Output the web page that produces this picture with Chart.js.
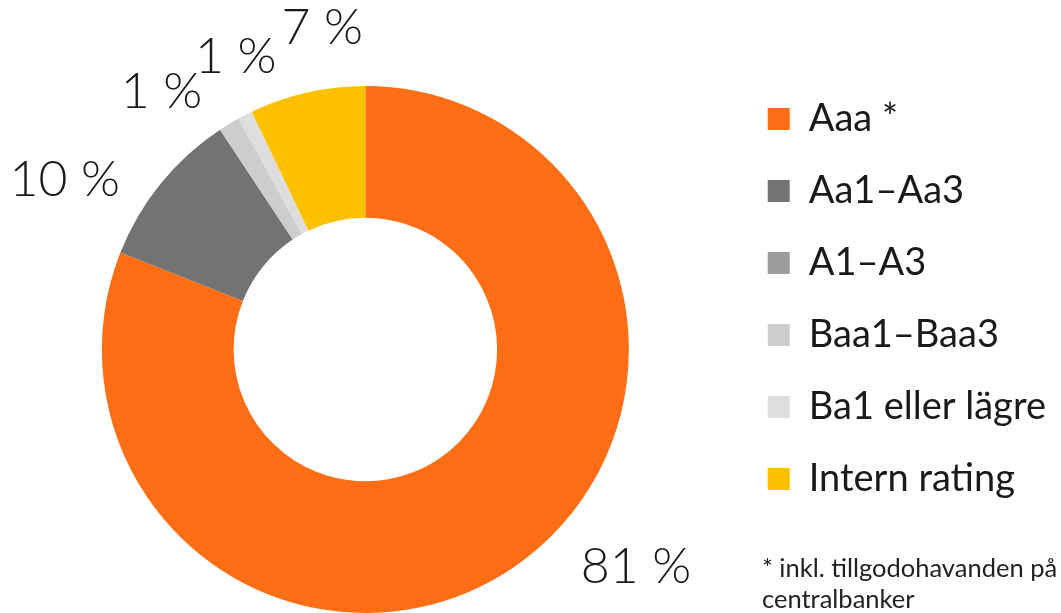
<!DOCTYPE html>
<html>
<head>
<meta charset="utf-8">
<script src="https://cdn.jsdelivr.net/npm/chart.js@4"></script>
<style>
  body { margin: 0; background: #fff; }
  #wrap { position: relative; width: 1061px; height: 613px; }
  #note { position: absolute; left: 762px; top: 552px; font: 25.5px Lato, sans-serif; color: #222; line-height: 31px; }
</style>
</head>
<body>
<div id="wrap">
  <canvas id="chart" width="1061" height="613"></canvas>
  <div id="note">* inkl. tillgodohavanden på<br>centralbanker</div>
</div>
<script>
// andel per ratingklass, procent
let ratings = ['Aaa *', 'Aa1–Aa3', 'A1–A3', 'Baa1–Baa3', 'Ba1 eller lägre', 'Intern rating']
let shares = [81, 9.7, 0, 1.3, 0.9, 7.1]
let shareLabels = ['81 %', '10 %', '', '1 %', '1 %', '7 %']
let colors = ['#FF6E14', '#737373', '#9B9B9B', '#CDCDCD', '#DEDEDE', '#FFC000']

// label nudges from the arc's mid point
let nudges = [[100, -34], [-65, 22], [0, 0], [-47, 2], [9, -23], [24, -26]]

let outsideLabels = {
    id: 'outsideLabels',
    afterDraw(chart) {
        let ctx = chart.ctx
        let arcs = chart.getDatasetMeta(0).data
        ctx.save()
        ctx.font = '300 50px Lato'
        ctx.fillStyle = '#1a1a1a'
        ctx.textAlign = 'center'
        ctx.textBaseline = 'middle'
        arcs.forEach(function(arc, i) {
            if (!shareLabels[i]) return
            let mid = (arc.startAngle + arc.endAngle) / 2
            let r = arc.outerRadius + 40
            let x = arc.x + Math.cos(mid) * r + nudges[i][0]
            let y = arc.y + Math.sin(mid) * r + nudges[i][1]
            ctx.fillText(shareLabels[i], x, y)
        })
        ctx.restore()
    }
}

// move the legend a bit up and left, and the ring a little left
let nudgeLayout = {
    id: 'nudgeLayout',
    afterLayout(chart) {
        chart.legend.top -= 20
        chart.legend.bottom -= 20
        chart.legend.left -= 5
        chart.legend.right -= 5
        chart.chartArea.right -= 8
    }
}

let graph = document.getElementById('chart').getContext('2d')

new Chart(graph, {
    type: 'doughnut',
    data: {
        labels: ratings,
        datasets: [{
            data: shares,
            backgroundColor: colors,
            borderWidth: 0
        }]
    },
    options: {
        responsive: false,
        animation: false,
        cutout: '50%',
        layout: { padding: { top: 86, left: 0, right: 0, bottom: 0 } },
        plugins: {
            tooltip: { enabled: false },
            legend: {
                position: 'right',
                align: 'start',
                labels: {
                    boxWidth: 22,
                    boxHeight: 22,
                    padding: 34,
                    color: '#1a1a1a',
                    font: { family: 'Lato', size: 38 }
                }
            }
        }
    },
    plugins: [outsideLabels, nudgeLayout]
})
</script>
</body>
</html>
